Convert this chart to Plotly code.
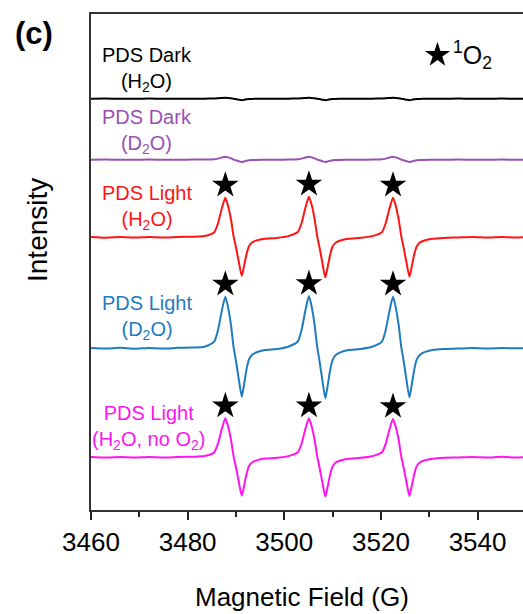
import plotly.graph_objects as go

# Magnetic field sampling points (G)
field = [
    3460, 3463, 3466, 3469, 3472, 3475, 3478, 3481,
    3483.5, 3485.5, 3486.3, 3487.1, 3487.8, 3488.4, 3489.0, 3489.5, 3490.0,
    3490.6, 3491.2, 3491.7, 3492.2, 3492.7, 3493.4, 3494.3, 3496.0,
    3498.5,
    3500.8, 3502.8, 3503.6, 3504.4, 3505.1, 3505.7, 3506.3, 3506.8, 3507.3,
    3507.9, 3508.5, 3509.0, 3509.5, 3510.0, 3510.7, 3511.6, 3513.3,
    3515.8,
    3518.2, 3520.2, 3521.0, 3521.8, 3522.5, 3523.1, 3523.7, 3524.2, 3524.7,
    3525.3, 3525.9, 3526.4, 3526.9, 3527.4, 3528.1, 3529.0, 3530.7,
    3533, 3536, 3539, 3542, 3545, 3548, 3550,
]

# EPR intensities (a.u.) for each sample
dark_h2o = [
    0.0, 0.1, -0.1, 0.0, 0.1, 0.0, -0.1, 0.0,
    0.0, 0.2, 0.4, 0.8, 1.0, 0.8, 0.4, 0.0, -0.4,
    -1.0, -1.5, -1.1, -0.6, -0.3, -0.2, -0.1, 0.0,
    0.0,
    0.0, 0.2, 0.4, 0.8, 1.0, 0.8, 0.4, 0.0, -0.4,
    -1.0, -1.5, -1.1, -0.6, -0.3, -0.2, -0.1, 0.0,
    0.0,
    0.0, 0.2, 0.4, 0.8, 1.0, 0.8, 0.4, 0.0, -0.4,
    -1.0, -1.5, -1.1, -0.6, -0.3, -0.2, -0.1, 0.0,
    0.0, 0.1, -0.1, 0.0, 0.1, 0.0, 0.0,
]
dark_d2o = [
    0.0, 0.1, -0.1, 0.0, 0.1, -0.1, 0.0, 0.1,
    0.1, 0.4, 1.1, 2.2, 3.0, 2.3, 1.3, 0.1, -0.6,
    -1.5, -2.3, -1.7, -1.0, -0.5, -0.3, -0.2, -0.1,
    0.0,
    0.1, 0.4, 1.1, 2.2, 3.0, 2.3, 1.3, 0.1, -0.6,
    -1.5, -2.3, -1.7, -1.0, -0.5, -0.3, -0.2, -0.1,
    0.0,
    0.1, 0.4, 1.1, 2.2, 3.0, 2.3, 1.3, 0.1, -0.6,
    -1.5, -2.3, -1.7, -1.0, -0.5, -0.3, -0.2, -0.1,
    0.0, 0.1, -0.1, 0.0, 0.1, 0.0, 0.0,
]
light_h2o = [
    0.3, -0.4, 0.4, -0.3, 0.3, -0.2, 0.4, 0.6,
    1.2, 5.1, 14.3, 29.3, 39.6, 30.9, 17.0, 1.2, -10.0,
    -25.0, -38.5, -28.1, -16.6, -8.9, -5.0, -3.1, -1.4,
    -0.6,
    1.2, 5.3, 14.6, 30.0, 40.6, 31.7, 17.5, 1.2, -10.4,
    -26.0, -40.0, -29.2, -17.2, -9.2, -5.2, -3.2, -1.4,
    -0.5,
    1.2, 5.1, 14.3, 29.3, 39.6, 30.9, 17.0, 1.2, -10.2,
    -25.6, -39.4, -28.8, -17.0, -9.1, -5.1, -3.2, -1.4,
    -0.6, -0.2, 0.3, -0.2, 0.4, -0.1, 0.2,
]
light_d2o = [
    0.4, -0.3, 0.5, -0.4, 0.3, -0.3, 0.5, 0.8,
    1.5, 6.7, 18.6, 38.2, 51.6, 40.2, 22.2, 1.5, -12.6,
    -31.5, -48.4, -35.3, -20.8, -11.1, -6.3, -3.9, -1.7,
    -0.7,
    1.6, 6.8, 18.8, 38.7, 52.3, 40.8, 22.5, 1.6, -13.0,
    -32.5, -50.0, -36.5, -21.5, -11.5, -6.5, -4.0, -1.8,
    -0.7,
    1.5, 6.7, 18.6, 38.2, 51.6, 40.2, 22.2, 1.5, -12.7,
    -31.9, -49.0, -35.8, -21.1, -11.3, -6.4, -3.9, -1.7,
    -0.7, -0.3, 0.3, -0.3, 0.3, 0.0, 0.2,
]
light_h2o_no_o2 = [
    0.2, -0.3, 0.3, -0.2, 0.3, -0.2, 0.3, 0.6,
    1.2, 5.1, 14.0, 28.9, 39.0, 30.4, 16.8, 1.2, -10.0,
    -25.0, -38.4, -28.0, -16.5, -8.8, -5.0, -3.1, -1.3,
    -0.5,
    1.2, 5.1, 14.0, 28.9, 39.0, 30.4, 16.8, 1.2, -10.2,
    -25.6, -39.4, -28.8, -16.9, -9.1, -5.1, -3.2, -1.4,
    -0.5,
    1.1, 5.0, 13.8, 28.3, 38.3, 29.9, 16.5, 1.1, -10.1,
    -25.2, -38.7, -28.3, -16.6, -8.9, -5.0, -3.1, -1.4,
    -0.5, -0.2, 0.3, -0.2, 0.5, -0.3, 0.4,
]

labels = [
    "PDS Dark<br>(H<sub>2</sub>O)",
    "PDS Dark<br>(D<sub>2</sub>O)",
    "PDS Light<br>(H<sub>2</sub>O)",
    "PDS Light<br>(D<sub>2</sub>O)",
    "PDS Light<br>(H<sub>2</sub>O, no O<sub>2</sub>)",
]
series = [dark_h2o, dark_d2o, light_h2o, light_d2o, light_h2o_no_o2]
colors = ["#000000", "#9b4fb5", "#ff1414", "#1f7bbf", "#ff14f0"]
offsets = [411.3, 350.3, 272.7, 161.7, 52.7]          # vertical stacking
label_y = [441, 379, 303, 193, 82.5]
label_x = [3471.6, 3471.6, 3471.6, 3471.6, 3472.0]
marked = [False, False, True, True, True]             # traces showing 1O2 adduct peaks
peak_windows = [(8, 25), (26, 43), (44, 61)]

FONT = "Arial, 'Liberation Sans', sans-serif"
W, H = 523, 614
L, R, T, B = 91, 0, 14, 104
PW, PH = W - L - R, H - T - B


def px(x):
    return (x - L) / PW


def py(y):
    return (H - B - y) / PH


fig = go.Figure()
annotations = []
for ys, col, off, lab, lx, ly, mk in zip(series, colors, offsets, labels,
                                        label_x, label_y, marked):
    fig.add_trace(go.Scatter(
        x=field, y=[v + off for v in ys], mode="lines",
        line=dict(color=col, width=2, shape="spline", smoothing=0.6),
        showlegend=False, hoverinfo="skip"))
    annotations.append(dict(
        x=lx, y=ly, xref="x", yref="y", text=lab, showarrow=False,
        xanchor="center", yanchor="middle", align="center",
        font=dict(family=FONT, size=20, color=col)))
    if mk:
        sx, sy = [], []
        for a, b in peak_windows:
            i = max(range(a, b), key=lambda k: ys[k])
            sx.append(field[i])
            sy.append(ys[i] + off + 12.5)
        fig.add_trace(go.Scatter(
            x=sx, y=sy, mode="markers",
            marker=dict(symbol="star", size=20, color="black"),
            showlegend=False, hoverinfo="skip"))

# 1O2 key
fig.add_trace(go.Scatter(
    x=[3531.7], y=[455], mode="markers",
    marker=dict(symbol="star", size=19, color="black"),
    showlegend=False, hoverinfo="skip"))
annotations.append(dict(
    x=3534.4, y=455, xref="x", yref="y", text="<sup>1</sup>O<sub>2</sub>",
    showarrow=False, xanchor="left", yanchor="middle",
    font=dict(family=FONT, size=25, color="black")))

# panel letter and axis titles
annotations.append(dict(
    x=px(34), y=py(33), xref="paper", yref="paper", text="<b>(c)</b>",
    showarrow=False, xanchor="center", yanchor="middle",
    font=dict(family=FONT, size=31, color="black")))
annotations.append(dict(
    x=px(302), y=py(597), xref="paper", yref="paper",
    text="Magnetic Field (G)", showarrow=False,
    xanchor="center", yanchor="middle",
    font=dict(family=FONT, size=26, color="black")))
annotations.append(dict(
    x=px(38), y=py(230), xref="paper", yref="paper", text="Intensity",
    textangle=-90, showarrow=False, xanchor="center", yanchor="middle",
    font=dict(family=FONT, size=28, color="black")))

fig.update_layout(
    width=W, height=H,
    margin=dict(l=L, r=R, t=T, b=B, pad=0),
    paper_bgcolor="white", plot_bgcolor="white",
    annotations=annotations,
    font=dict(family=FONT, color="black"),
)
fig.update_xaxes(
    range=[3460, 3549.4], tickvals=[3460, 3480, 3500, 3520, 3540],
    ticks="outside", ticklen=8, tickwidth=1.5, tickcolor="#222",
    minor=dict(dtick=10, tick0=3460, ticks="outside", ticklen=5,
               tickwidth=1.5, tickcolor="#222"),
    showline=True, linewidth=2, linecolor="#333", mirror=True,
    showgrid=False, zeroline=False,
    tickfont=dict(family=FONT, size=26, color="black"),
)
fig.update_yaxes(
    range=[0, PH], showticklabels=False, ticks="",
    showline=True, linewidth=2, linecolor="#333", mirror=False,
    showgrid=False, zeroline=False,
)

fig.write_html("out.html")
